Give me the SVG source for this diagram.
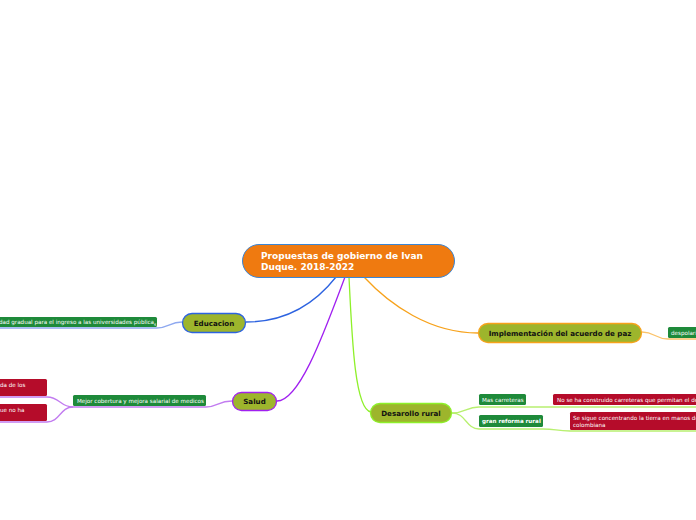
<svg xmlns="http://www.w3.org/2000/svg" width="696" height="520" viewBox="0 0 696 520">
<style>
.main{fill:#9db52c;stroke-width:1.3}
.mt{font-family:"DejaVu Sans",sans-serif;font-weight:bold;font-size:7.1px;fill:#111;text-anchor:middle}
.leaf{fill:#1e8a3a}
.red{fill:#b50c2a}
.lt{font-family:"DejaVu Sans",sans-serif;font-size:5.6px;fill:#fff}
.c{fill:none;stroke-width:1.3}
</style>
<rect width="696" height="520" fill="#fff"/>
<g id="connectors">
<path class="c" stroke="#2d63e0" d="M336,277 C310,310 280,322 246,322"/>
<path class="c" stroke="#a020f0" d="M345,277 C325,330 300,401 277,401"/>
<path class="c" stroke="#8ef02a" d="M349,277 C352,340 355,410 371,412"/>
<path class="c" stroke="#f7a21b" d="M364,277 C390,305 430,333 478,333"/>
<path class="c" stroke="#8fa9f0" d="M182,322 C170,322 168,328 157,328 L0,328"/>
<path class="c" stroke="#c27cf0" d="M232,401 C218,401 218,407 206,407 L73,407"/>
<path class="c" stroke="#c27cf0" d="M73,407 C60,407 60,397 47,397 L0,397"/>
<path class="c" stroke="#c27cf0" d="M73,407 C60,407 60,422 47,422 L0,422"/>
<path class="c" stroke="#fbc36a" d="M642,332 C655,332 655,339 668,339 L696,339"/>
<path class="c" stroke="#b8f070" d="M452,413 C466,413 466,407 479,407 L526,407 C540,407 540,407 553,407 L696,407"/>
<path class="c" stroke="#b8f070" d="M452,413 C466,413 466,429 479,429 L543,429 C556,429 556,431 570,431 L696,431"/>
</g>
<g id="root">
<rect x="242.5" y="244.5" width="212" height="33" rx="16.5" fill="#ef7a10" stroke="#3a86d6" stroke-width="1"/>
<text font-family="DejaVu Sans,sans-serif" font-weight="bold" font-size="9px" fill="#fff"><tspan x="261" y="259">Propuestas de gobierno de Ivan</tspan><tspan x="261" y="270">Duque. 2018-2022</tspan></text>
</g>
<g id="educacion">
<rect class="main" x="182.5" y="313.5" width="63" height="19" rx="9.5" stroke="#2d63e0"/>
<text class="mt" x="214" y="326">Educacion</text>
</g>
<g id="edu-leaf">
<rect class="leaf" x="-10" y="317" width="167" height="10" rx="1.5"/>
<text class="lt" x="-1" y="324">dad gradual para el ingreso a las universidades pública<tspan font-size="4.5px" dy="1.5">s</tspan></text>
</g>
<g id="salud">
<rect class="main" x="232.5" y="392.5" width="44" height="18" rx="9" stroke="#a020f0"/>
<text class="mt" x="254.5" y="404">Salud</text>
</g>
<g id="salud-leaf">
<rect class="leaf" x="73" y="395" width="133" height="11" rx="1.5"/>
<text class="lt" x="77" y="402.5">Mejor cobertura y mejora salarial de medicos</text>
</g>
<g id="salud-red1">
<rect class="red" x="-10" y="379" width="57" height="17" rx="1.5"/>
<text class="lt" x="0" y="386.5">da de los</text>
</g>
<g id="salud-red2">
<rect class="red" x="-10" y="404" width="57" height="17" rx="1.5"/>
<text class="lt" x="0" y="411.5">ue no ha</text>
</g>
<g id="paz">
<rect class="main" x="478.5" y="323.5" width="163" height="19" rx="9.5" stroke="#f7a21b"/>
<text class="mt" x="560" y="336">Implementación del acuerdo de paz</text>
</g>
<g id="paz-leaf">
<rect class="leaf" x="668" y="327" width="40" height="11" rx="1.5"/>
<text class="lt" x="671" y="334.5">despolari</text>
</g>
<g id="rural">
<rect class="main" x="370.5" y="403.5" width="81" height="19" rx="9.5" stroke="#8ef02a"/>
<text class="mt" x="411" y="416">Desarollo rural</text>
</g>
<g id="carreteras">
<rect class="leaf" x="479" y="394" width="47" height="11" rx="1.5"/>
<text class="lt" x="482" y="401.5">Mas carreteras</text>
</g>
<g id="carreteras-red">
<rect class="red" x="553" y="394" width="150" height="11" rx="1.5"/>
<text class="lt" x="557" y="401.5">No se ha construido carreteras que permitan el de</text>
</g>
<g id="reforma">
<rect class="leaf" x="479" y="415" width="64" height="12" rx="1.5"/>
<text class="lt" x="482" y="423" font-weight="bold">gran reforma rural</text>
</g>
<g id="reforma-red">
<rect class="red" x="570" y="412" width="133" height="18" rx="1.5"/>
<text class="lt"><tspan x="573" y="419.5">Se sigue concentrando la tierra en manos de</tspan><tspan x="573" y="427">colombiana</tspan></text>
</g>
</svg>
